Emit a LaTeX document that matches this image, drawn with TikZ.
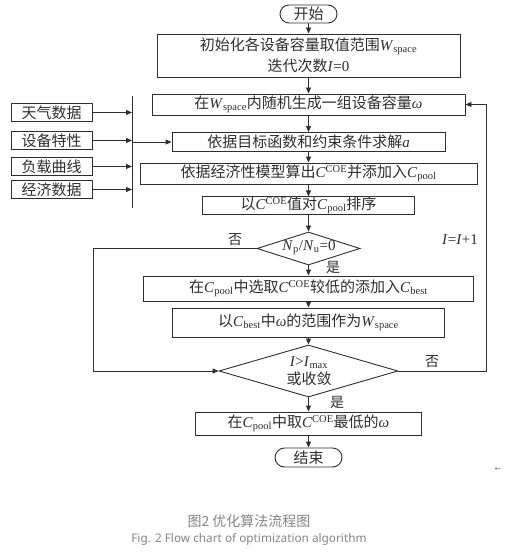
\documentclass[tikz,border=0pt]{standalone}
\usepackage{fontspec}
\setmainfont{Liberation Serif}
\newfontfamily\cjk{Noto Sans CJK SC}
\newfontfamily\capsans{Noto Sans}
\newfontfamily\dejavu{DejaVu Sans}
\usetikzlibrary{arrows.meta,shapes.geometric,shapes.misc}
\definecolor{ln}{HTML}{2E2E2E}
\definecolor{capgray}{HTML}{858585}
\newcommand\zh[1]{{\cjk #1}}
\newcommand\ital[1]{\textit{#1}}
\begin{document}
\begin{tikzpicture}[x=1pt,y=-1pt,
  every node/.style={text=ln},
  box/.style={draw=ln, line width=0.9pt, rectangle, inner sep=0pt, align=center,
              font=\fontsize{15pt}{21pt}\selectfont},
  pill/.style={box, rounded rectangle},
  dia/.style={draw=ln, line width=0.9pt, diamond, inner sep=0pt},
  txt/.style={inner sep=0pt, align=center, font=\fontsize{15pt}{18pt}\selectfont},
  lbl/.style={inner sep=0pt, font=\fontsize{14pt}{16pt}\selectfont},
  flow/.style={draw=ln, line width=0.9pt, -{Triangle[length=6pt,width=5pt]}},
  plain/.style={draw=ln, line width=0.9pt},
]
\useasboundingbox (0,0) rectangle (504,556);

% main column
\node[pill, minimum width=57pt, minimum height=18pt] (start) at (308.5,14) {\zh{开始}};
\node[box, minimum width=303pt, minimum height=43pt] (init) at (308.5,55.5)
  {\zh{初始化各设备容量取值范围}\ital{W}\textsubscript{space}\\\zh{迭代次数}\ital{I}=0};
\node[box, minimum width=313pt, minimum height=21pt] (gen) at (308.5,104.5)
  {\zh{在}\ital{W}\textsubscript{space}\zh{内随机生成一组设备容量}\ital{ω}};
\node[box, minimum width=273pt, minimum height=19pt] (solve) at (308.5,142)
  {\zh{依据目标函数和约束条件求解}\ital{a}};
\node[box, minimum width=337pt, minimum height=21pt] (econ) at (308.5,173.5)
  {\zh{依据经济性模型算出}\ital{C}\textsuperscript{COE}\zh{并添加入}\ital{C}\textsubscript{pool}};
\node[box, minimum width=212pt, minimum height=17pt] (sort) at (308.5,205.5)
  {\zh{以}\ital{C}\textsuperscript{COE}\zh{值对}\ital{C}\textsubscript{pool}\zh{排序}};
\node[dia, minimum width=103pt, minimum height=33pt] (d1) at (308.5,248.5) {};
\node[txt] (d1t) at (309,248) {\ital{N}\textsubscript{p}/\ital{N}\textsubscript{u}=0};
\node[box, minimum width=330pt, minimum height=25pt] (pick) at (308.5,288.5)
  {\zh{在}\ital{C}\textsubscript{pool}\zh{中选取}\ital{C}\textsuperscript{COE}\zh{较低的添加入}\ital{C}\textsubscript{best}};
\node[box, minimum width=272pt, minimum height=29pt] (range) at (308.5,322.5)
  {\zh{以}\ital{C}\textsubscript{best}\zh{中}\ital{ω}\zh{的范围作为}\ital{W}\textsubscript{space}};
\node[dia, minimum width=179pt, minimum height=52pt] (d2) at (308.5,371) {};
\node[txt] (d2t) at (309,371.5) {\ital{I}>\ital{I}\textsubscript{max}\\\zh{或收敛}};
\node[box, minimum width=226pt, minimum height=23pt] (best) at (308.5,423.5)
  {\zh{在}\ital{C}\textsubscript{pool}\zh{中取}\ital{C}\textsuperscript{COE}\zh{最低的}\ital{ω}};
\node[pill, minimum width=67pt, minimum height=19pt] (stop) at (308.5,457.5) {\zh{结束}};

% input data boxes
\node[box, minimum width=81pt, minimum height=18pt] (wea) at (51.5,112.5) {\zh{天气数据}};
\node[box, minimum width=81pt, minimum height=18pt] (dev) at (51.5,140.5) {\zh{设备特性}};
\node[box, minimum width=81pt, minimum height=18pt] (load) at (51.5,166.5) {\zh{负载曲线}};
\node[box, minimum width=81pt, minimum height=18pt] (eco) at (51.5,189.5) {\zh{经济数据}};
\coordinate (bartop) at (132,96);
\coordinate (barbot) at (132,208);
\coordinate (barout) at (132,142);
\draw[plain] (bartop) -- (barbot);
\draw[flow] (wea.east) -- (wea.east -| bartop);
\draw[flow] (dev.east) -- (dev.east -| bartop);
\draw[flow] (load.east) -- (load.east -| bartop);
\draw[flow] (eco.east) -- (eco.east -| bartop);
\draw[flow] (barout) -- (solve.west);

% main flow arrows
\draw[flow] (start) -- (init);
\draw[flow] (init) -- (gen);
\draw[flow] (gen) -- (solve);
\draw[flow] (solve) -- (econ);
\draw[flow] (econ) -- (sort);
\draw[flow] (sort) -- (d1);
\draw[flow] (d1) -- (pick);
\draw[flow] (pick) -- (range);
\draw[flow] (range) -- (d2);
\draw[flow] (d2) -- (best);
\draw[flow] (best) -- (stop);

% loops
\coordinate (lx) at (93,248.5);
\coordinate (rx) at (486,371);
\draw[flow] (d1.west) -- (lx) |- (d2.west);
\draw[flow] (d2.east) -- (rx) |- (gen.east);

% labels
\node[lbl] (no1) at (235,240) {\zh{否}};
\node[lbl] (yes1) at (333,267) {\zh{是}};
\node[lbl] (no2) at (432,362) {\zh{否}};
\node[lbl] (yes2) at (337,402) {\zh{是}};
\node[lbl, font=\fontsize{15pt}{17pt}\selectfont] (inc) at (460,240) {\ital{I}=\ital{I}+1};

% caption
\node[inner sep=0pt, text=capgray, font=\cjk\fontsize{14pt}{15pt}\selectfont] (cap1) at (249,521) {图2 优化算法流程图};
\node[inner sep=0pt, text=capgray, font=\capsans\fontsize{11.8pt}{13pt}\selectfont] (cap2) at (249,539) {Fig. 2 Flow chart of optimization algorithm};
\node[inner sep=0pt, text=gray, font=\dejavu\fontsize{8pt}{8pt}\selectfont] (mark) at (498,469) {←};
\end{tikzpicture}
\end{document}
